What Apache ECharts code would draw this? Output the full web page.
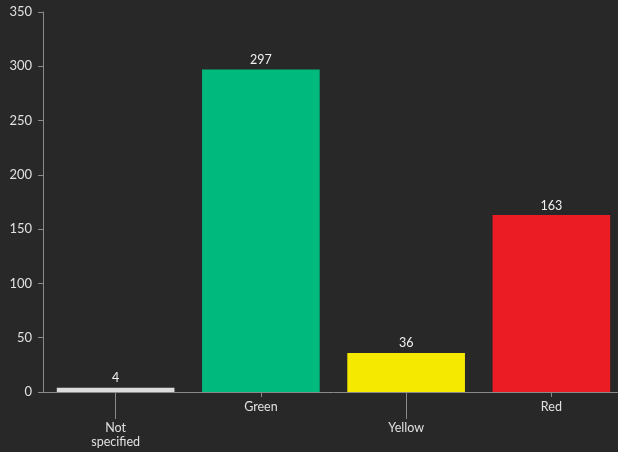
<!DOCTYPE html>
<html><head><meta charset="utf-8">
<script src="https://cdn.jsdelivr.net/npm/echarts@6/dist/echarts.min.js"></script>
<style>html,body{margin:0;padding:0;background:#282828;overflow:hidden;width:618px;height:452px;}#c{width:624px;height:452px;}</style>
</head><body><div id="c"></div>
<script>
const categories = ['Not\nspecified', 'Green', 'Yellow', 'Red'];
const values = [4, 297, 36, 163];
const colors = ['#dcdcdc', '#00b97c', '#f5e900', '#ec1c24'];
const yTicks = { min: 0, max: 350, interval: 50 };

const font = 'Lato, "Open Sans", sans-serif';
const chart = echarts.init(document.getElementById('c'));
chart.setOption({
  backgroundColor: '#282828',
  animation: false,
  grid: { left: 43, top: 12, right: 0, bottom: 60, containLabel: false },
  xAxis: [{
    type: 'category', data: categories, position: 'bottom',
    axisLine: { lineStyle: { color: '#8a8a8a', width: 1 } },
    axisTick: { show: true, alignWithLabel: true, interval: 0, length: 5, lineStyle: { color: '#8a8a8a' } },
    axisLabel: { color: '#e0e0e0', fontFamily: font, fontSize: 12.5, margin: 8,
      formatter: (v, i) => (i % 2 === 1 ? v : '') }
  }, {
    type: 'category', data: categories, position: 'bottom', gridIndex: 0,
    axisLine: { show: false },
    axisTick: { show: true, alignWithLabel: true, length: 27, lineStyle: { color: '#8a8a8a' },
      interval: (i) => i % 2 === 0 },
    axisLabel: { color: '#e0e0e0', fontFamily: font, fontSize: 12.5, margin: 29, lineHeight: 14,
      interval: 0, formatter: (v, i) => (i % 2 === 0 ? v : '') }
  }],
  yAxis: {
    type: 'value', min: yTicks.min, max: yTicks.max, interval: yTicks.interval,
    axisLine: { show: true, lineStyle: { color: '#8a8a8a' } },
    axisTick: { show: true, length: 5, lineStyle: { color: '#8a8a8a' } },
    splitLine: { show: false },
    axisLabel: { color: '#e0e0e0', fontFamily: font, fontSize: 13, margin: 11 }
  },
  series: [{
    type: 'bar', xAxisIndex: 0,
    data: values.map((v, i) => ({ value: v, itemStyle: { color: colors[i] } })),
    barCategoryGap: '19%',
    label: { show: true, position: 'top', color: '#f0f0f0', fontFamily: font, fontSize: 12.5, distance: 3 }
  }]
});
</script></body></html>
